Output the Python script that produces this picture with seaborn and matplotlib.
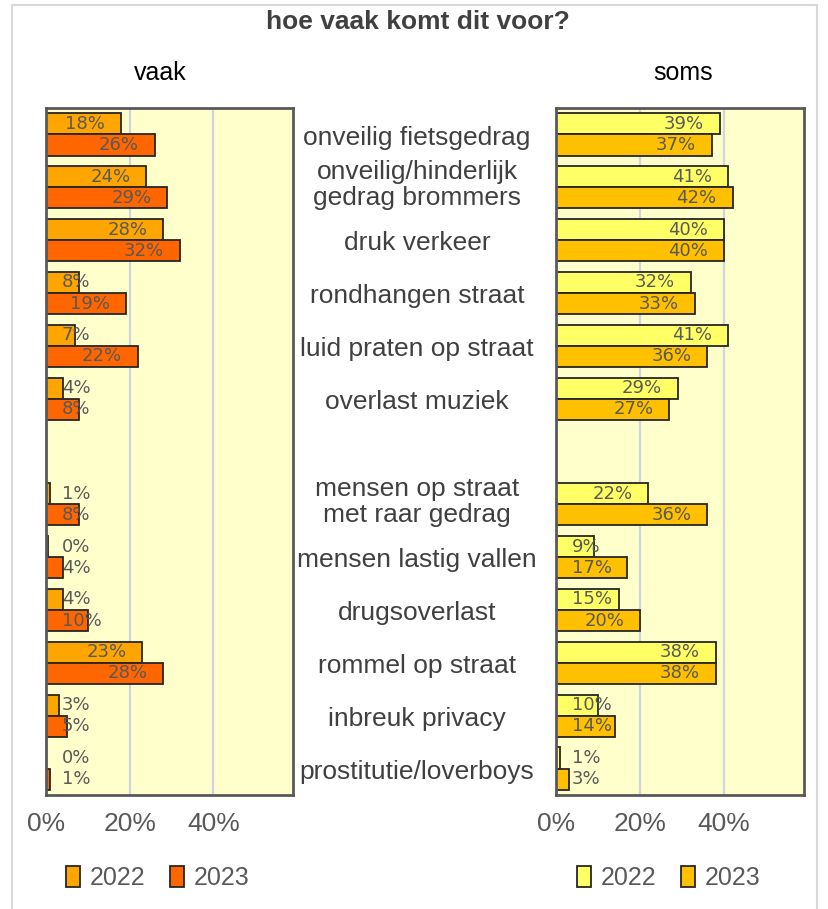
import numpy as np
import pandas as pd
import matplotlib
matplotlib.use("Agg")
import matplotlib.pyplot as plt
import matplotlib.transforms as mtransforms
from matplotlib.patches import Rectangle
import seaborn as sns

# data (percentages)
categories = ["onveilig fietsgedrag", "onveilig/hinderlijk\ngedrag brommers",
              "druk verkeer", "rondhangen straat", "luid praten op straat",
              "overlast muziek", " ", "mensen op straat\nmet raar gedrag",
              "mensen lastig vallen", "drugsoverlast", "rommel op straat",
              "inbreuk privacy", "prostitutie/loverboys"]
years = ["2022", "2023"]
vaak_2022 = [18, 24, 28, 8, 7, 4, np.nan, 1, 0.4, 4, 23, 3, 0]
vaak_2023 = [26, 29, 32, 19, 22, 8, np.nan, 8, 4, 10, 28, 5, 1]
soms_2022 = [39, 41, 40, 32, 41, 29, np.nan, 22, 9, 15, 38, 10, 1]
soms_2023 = [37, 42, 40, 33, 36, 27, np.nan, 36, 17, 20, 38, 14, 3]
x_ticks = [0, 20, 40]
x_ticklabels = ["0%", "20%", "40%"]

vaak_colors = {"2022": "#FFA500", "2023": "#FF6600"}
soms_colors = {"2022": "#FFFF66", "2023": "#FFC000"}

sns.set_theme(style="white")
plt.rcParams["font.family"] = ["Liberation Sans", "DejaVu Sans"]

W, H = 829, 909
fig = plt.figure(figsize=(W / 100, H / 100), dpi=100)
fig.patch.set_facecolor("white")

ax_l = fig.add_axes([46 / W, 1 - 795 / H, (293 - 46) / W, (795 - 108) / H])
ax_r = fig.add_axes([556 / W, 1 - 795 / H, (804 - 556) / W, (795 - 108) / H])


def make_frame(v22, v23):
    return pd.DataFrame({
        "cat": categories * 2,
        "year": ["2022"] * len(categories) + ["2023"] * len(categories),
        "val": list(v22) + list(v23),
    })


def draw_panel(ax, frame, colors, title, title_x, legend_x):
    sns.barplot(data=frame, y="cat", x="val", hue="year", order=categories,
                hue_order=years, palette=colors, orient="h", width=0.8,
                errorbar=None, edgecolor="#262626", linewidth=1.3, ax=ax,
                saturation=1)
    ax.set_facecolor("#FFFFCC")
    ax.set_xlim(0, 59)
    ax.set_ylim(len(categories) - 0.5, -0.5)
    ax.set_xticks(x_ticks)
    ax.set_xticklabels(x_ticklabels)
    ax.tick_params(axis="x", labelsize=19, colors="#595959", length=0, pad=12)
    ax.set_yticks([])
    ax.set_xlabel("")
    ax.set_ylabel("")
    for x in x_ticks[1:]:
        ax.axvline(x, color="#D0D3E0", lw=1.6, zorder=0)
    for s in ax.spines.values():
        s.set_color("#595959")
        s.set_linewidth(2)
    handles, labels = ax.get_legend_handles_labels()
    ax.legend(handles, labels, loc="center", ncol=2, frameon=False,
              bbox_to_anchor=(legend_x, 1 - 878 / H),
              bbox_transform=fig.transFigure, handlelength=0.55,
              handleheight=0.9, handletextpad=0.4, columnspacing=1.0,
              prop={"size": 18}, labelcolor="#595959")
    fig.text(title_x, 1 - 73 / H, title, ha="center", va="center",
             fontsize=18, color="black")


draw_panel(ax_l, make_frame(vaak_2022, vaak_2023), vaak_colors, "vaak",
           160 / W, 158 / W)
draw_panel(ax_r, make_frame(soms_2022, soms_2023), soms_colors, "soms",
           683 / W, 669 / W)

# value labels: inside end, or from the base when they do not fit
fig.canvas.draw()
renderer = fig.canvas.get_renderer()
for ax in (ax_l, ax_r):
    px_unit = ax.transData.transform((1, 0))[0] - ax.transData.transform((0, 0))[0]
    pad = 16 / px_unit
    for cont in ax.containers:
        for bar in cont:
            w = bar.get_width()
            if np.isnan(w):
                continue
            yc = bar.get_y() + bar.get_height() / 2
            t = ax.text(pad, yc, f"{round(w):.0f}%", ha="left", va="center",
                        fontsize=13, color="#595959", family="DejaVu Sans")
            tw = t.get_window_extent(renderer).width / px_unit
            if w - pad - tw >= pad:
                t.set_x(w - pad)
                t.set_ha("right")

# category names in the middle
trans = mtransforms.blended_transform_factory(fig.transFigure, ax_l.transData)
for i, c in enumerate(categories):
    dy = -0.04 if "\n" in c else 0.06
    fig.text(417 / W, i + dy, c, transform=trans, ha="center", va="center",
             fontsize=19, color="#404040", linespacing=1.1)

fig.text(418 / W, 1 - 22 / H, "hoe vaak komt dit voor?", ha="center",
         va="center", fontsize=19, fontweight="bold", color="#404040")

fig.patches.append(Rectangle((12 / W, -0.01), (817 - 12) / W, 1 - 5 / H + 0.01,
                             transform=fig.transFigure, fill=False,
                             edgecolor="#D9D9D9", lw=1.5))

fig.savefig("out.png", dpi=100)
